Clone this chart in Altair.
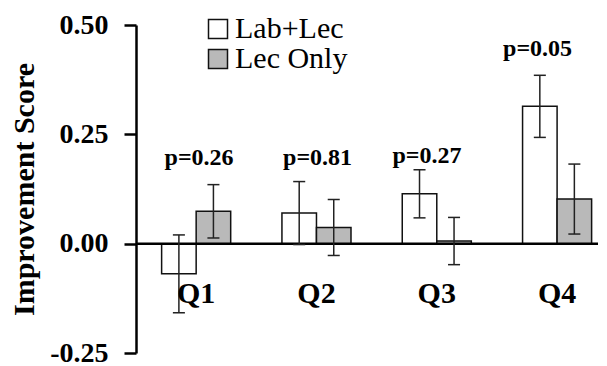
import altair as alt
import pandas as pd

questions = ["Q1", "Q2", "Q3", "Q4"]
groups = ["Lab+Lec", "Lec Only"]
lab_mean = [-0.069, 0.070, 0.114, 0.314]
lab_err = [0.089, 0.072, 0.055, 0.071]
lec_mean = [0.074, 0.037, 0.006, 0.102]
lec_err = [0.061, 0.064, 0.054, 0.080]
p_labels = ["p=0.26", "p=0.81", "p=0.27", "p=0.05"]
p_label_x = [0.524, 1.509, 2.419, 3.338]
p_label_y = [0.179, 0.179, 0.184, 0.430]
y_ticks = [-0.25, 0.0, 0.25, 0.5]

rows = []
for i, q in enumerate(questions):
    rows.append(dict(q=q, idx=i, group=groups[0], mean=lab_mean[i], err=lab_err[i]))
    rows.append(dict(q=q, idx=i, group=groups[1], mean=lec_mean[i], err=lec_err[i]))
df = pd.DataFrame(rows)
qdf = pd.DataFrame({"q": questions, "idx": list(range(len(questions)))})
pdf = pd.DataFrame({"label": p_labels, "px": p_label_x, "py": p_label_y})

SERIF = "Liberation Serif"
TITLE = "Improvement Score"
xscale = alt.Scale(domain=[0, 3.84], nice=False, zero=False)
yscale = alt.Scale(domain=[-0.25, 0.5], nice=False, zero=False)

base = (
    alt.Chart(df)
    .transform_calculate(xc="datum.idx + 0.5 + (datum.group == 'Lab+Lec' ? -0.1435 : 0.1435)")
    .transform_calculate(x0="datum.xc - 0.1435")
    .transform_calculate(x1="datum.xc + 0.1435")
    .transform_calculate(lo="datum.mean - datum.err")
    .transform_calculate(hi="datum.mean + datum.err")
    .transform_calculate(cl="datum.xc - 0.05")
    .transform_calculate(cr="datum.xc + 0.05")
)

yaxis = alt.Axis(
    values=y_ticks,
    labelExpr="datum.value < 0 ? '-' + format(-datum.value, '.2f') : format(datum.value, '.2f')",
    labelFont=SERIF,
    labelFontWeight="bold",
    labelFontSize=28,
    labelColor="black",
    labelPadding=16,
    tickSize=12,
    tickWidth=2.5,
    tickColor="black",
    domainColor="black",
    domainWidth=2.5,
    grid=False,
    titleFont=SERIF,
    titleFontSize=30,
    titleFontWeight="bold",
    titleColor="black",
    titleX=-112,
    titleBaseline="middle",
    titleAngle=270,
)

bars = base.mark_bar(stroke="#111111", strokeWidth=1.5).encode(
    x=alt.X("x0:Q", scale=xscale, axis=None),
    x2="x1:Q",
    y=alt.Y("mean:Q", scale=yscale, axis=yaxis, title=TITLE),
    y2=alt.datum(0),
    fill=alt.Fill(
        "group:N",
        scale=alt.Scale(domain=groups, range=["white", "#b9b9b9"]),
        legend=alt.Legend(
            title=None,
            orient="none",
            legendX=67,
            legendY=-11,
            symbolType="square",
            symbolSize=361,
            symbolStrokeColor="#111111",
            symbolStrokeWidth=1.5,
            labelFont=SERIF,
            labelFontSize=30,
            labelColor="black",
            labelOffset=2,
            rowPadding=-3,
            padding=0,
        ),
    ),
)

zero = alt.Chart(pd.DataFrame({"z": [0]})).mark_rule(color="black", strokeWidth=2.5).encode(
    y=alt.Y("z:Q", scale=yscale, axis=yaxis, title=TITLE)
)

err_line = base.mark_rule(color="#222222", strokeWidth=1.5).encode(
    x=alt.X("xc:Q", scale=xscale, axis=None),
    y=alt.Y("lo:Q", scale=yscale, axis=yaxis, title=TITLE),
    y2="hi:Q",
)
cap_hi = base.mark_rule(color="#222222", strokeWidth=1.5).encode(
    x=alt.X("cl:Q", scale=xscale, axis=None),
    x2="cr:Q",
    y=alt.Y("hi:Q", scale=yscale, axis=yaxis, title=TITLE),
)
cap_lo = base.mark_rule(color="#222222", strokeWidth=1.5).encode(
    x=alt.X("cl:Q", scale=xscale, axis=None),
    x2="cr:Q",
    y=alt.Y("lo:Q", scale=yscale, axis=yaxis, title=TITLE),
)

qtext = (
    alt.Chart(qdf)
    .transform_calculate(qx="datum.idx + 0.5")
    .mark_text(font=SERIF, fontWeight="bold", fontSize=30, color="black", baseline="alphabetic", dy=59)
    .encode(
        x=alt.X("qx:Q", scale=xscale, axis=None),
        y=alt.datum(0, scale=yscale, axis=yaxis, title=TITLE),
        text="q:N",
    )
)

ptext = (
    alt.Chart(pdf)
    .mark_text(font=SERIF, fontWeight="bold", fontSize=24, color="black", baseline="alphabetic")
    .encode(
        x=alt.X("px:Q", scale=xscale, axis=None),
        y=alt.Y("py:Q", scale=yscale, axis=yaxis, title=TITLE),
        text="label:N",
    )
)

chart = (
    alt.layer(bars, zero, err_line, cap_hi, cap_lo, qtext, ptext)
    .properties(
        width=462,
        height=328,
        autosize=alt.AutoSizeParams(type="none"),
        padding={"left": 128, "top": 17, "right": 0, "bottom": 15},
        background="white",
    )
    .configure_view(stroke=None)
)

chart.save("out.html", embed_options={"renderer": "svg", "actions": False})
